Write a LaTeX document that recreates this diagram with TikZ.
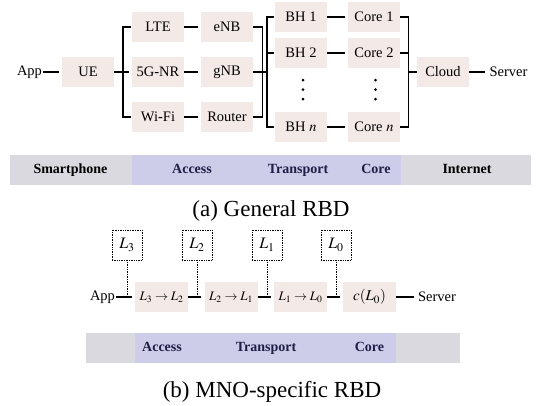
\documentclass[tikz,border=0pt]{standalone}
\usepackage{mathptmx}
\usepackage{fontspec}
\setmainfont{Liberation Serif}
\usepackage{tikz}
\usetikzlibrary{positioning, calc}
\definecolor{blockfill}{HTML}{F3E9E6}
\definecolor{bandgrey}{HTML}{D9D9DF}
\definecolor{bandblue}{HTML}{CDCDEA}
\definecolor{bandink}{HTML}{1E1E46}

\tikzset{
  block/.style={fill=blockfill, minimum width=52pt, minimum height=30pt, inner sep=0pt,
    font=\fontsize{14.5}{17}\selectfont},
  lbl/.style={inner sep=1pt, font=\fontsize{14.5}{17}\selectfont},
  rbd/.style={line width=1.4pt, shorten >=3pt},
  rail/.style={line width=1.4pt, line join=miter},
  lvl/.style={draw, densely dotted, line width=0.7pt, minimum size=30pt, inner sep=0pt,
    font=\fontsize{16}{18}\selectfont},
  tick/.style={densely dotted, line width=0.7pt},
  bandtxt/.style={font=\fontsize{14}{16}\selectfont\bfseries, text=bandink,
    text height=9.5pt, text depth=3pt, inner sep=0pt},
  caption/.style={font=\fontsize{23}{26}\selectfont}
}

\begin{document}
\begin{tikzpicture}[x=1pt, y=-1pt]
\useasboundingbox (0,0) rectangle (544,405);

% ================== (a) RBD generale ==================
\begin{scope}
  % Blocchi
  \node[lbl] (app) at (29.5,72) {App};
  \node[block] (ue) at (88,72) {UE};
  \node[block] (lte)  at (158,27)  {LTE};
  \node[block] (nr)   at (158,72)  {5G-NR};
  \node[block] (wifi) at (158,117) {Wi-Fi};
  \node[block] (enb)    at (227,27)  {eNB};
  \node[block] (gnb)    at (227,72)  {gNB};
  \node[block] (router) at (227,117) {Router};
  \node[block] (bh1) at (301,17)  {BH 1};
  \node[block] (bh2) at (301,53)  {BH 2};
  \node[block] (bhn) at (301,127) {BH $n$};
  \node[block] (core1) at (374,17)  {Core 1};
  \node[block] (core2) at (374,53)  {Core 2};
  \node[block] (coren) at (374,127) {Core $n$};
  \node[block] (cloud) at (443,72) {Cloud};
  \node[lbl] (server) at (508.5,72) {Server};

  % Puntini verticali (rami 3..n-1)
  \coordinate (bhdots) at (303,89.5);
  \coordinate (coredots) at (375.5,89.5);
  \foreach \d in {-9.5,0,9.5}{
    \fill ([yshift=\d pt]bhdots) circle (1.5);
    \fill ([yshift=\d pt]coredots) circle (1.5);
  }

  % Collegamenti in serie
  \draw[rbd] (app) -- (ue);
  \draw[rbd] (ue) -- (nr);
  \foreach \a/\b in {lte/enb, nr/gnb, wifi/router, bh1/core1, bh2/core2, bhn/coren}
    \draw[rbd] (\a) -- (\b);
  \draw[rbd] (cloud) -- (server);

  % Rami in parallelo
  \draw[rail] ([xshift=-1]lte.west) -- ++(-8,0) |- ([xshift=-1]wifi.west);
  \draw[rail] (enb.east) -- ++(9,0) |- (router.east);
  \draw[rail] ([xshift=-1]bh1.west) -- ++(-7,0) |- ([xshift=-1]bhn.west);
  \draw[rail] ([xshift=-1]bh2.west) -- ++(-7,0);
  \draw[rail] (gnb.east) -- ([xshift=-8]bh1.west |- gnb.east);
  \draw[rail] (core1.east) -- ++(8,0) |- (coren.east);
  \draw[rail] (core2.east) -- ++(8,0);
  \draw[rail] (cloud.west) -- ++(-9,0);

  % Fascia dei domini
  \fill[bandgrey] (10,155) rectangle (132,185);
  \fill[bandblue] (132,155) rectangle (401,185);
  \fill[bandgrey] (401,155) rectangle (531,185);
  \node[bandtxt, text=black] at (70.5,170) {Smartphone};
  \node[bandtxt] at (192,170) {Access};
  \node[bandtxt] at (298,170) {Transport};
  \node[bandtxt] at (376,170) {Core};
  \node[bandtxt, text=black] at (467,170) {Internet};

  \node[caption] at (271,211) {(a) General RBD};
\end{scope}

% ================== (b) RBD specifico MNO ==================
\begin{scope}
  \node[lbl] (app2) at (102.5,297) {App};
  \node[block, minimum width=53pt, font=\fontsize{13}{15}\selectfont] (s32) at (161.5,297) {$L_3\to L_2$};
  \node[block, minimum width=53pt, font=\fontsize{13}{15}\selectfont] (s21) at (231,297) {$L_2\to L_1$};
  \node[block, minimum width=53pt, font=\fontsize{13}{15}\selectfont] (s10) at (300.5,297) {$L_1\to L_0$};
  \node[block, minimum width=53pt, font=\fontsize{15}{17}\selectfont] (c0) at (369.5,297) {$c(L_0)$};
  \node[lbl] (server2) at (437,297) {Server};

  % Livelli (tratteggiati)
  \foreach \n/\x in {3/127, 2/197, 1/267, 0/336}
    \node[lvl] (l\n) at (\x,245) {$L_\n$};

  \draw[rbd] (app2) -- (s32);
  \draw[rbd] (s32) -- (s21);
  \draw[rbd] (s21) -- (s10);
  \draw[rbd] (s10) -- (c0);
  \draw[rbd] (c0) -- (server2);

  \foreach \n in {3,2,1,0}
    \draw[tick] (l\n.south) -- (l\n.south |- s32.center);

  % Fascia dei domini
  \fill[bandgrey] (86,333) rectangle (460,363);
  \fill[bandblue] (135,333) rectangle (396,363);
  \node[bandtxt] at (162,348) {Access};
  \node[bandtxt] at (266,348) {Transport};
  \node[bandtxt] at (369.5,348) {Core};

  \node[caption] at (272,392) {(b) MNO-specific RBD};
\end{scope}

\end{tikzpicture}
\end{document}
